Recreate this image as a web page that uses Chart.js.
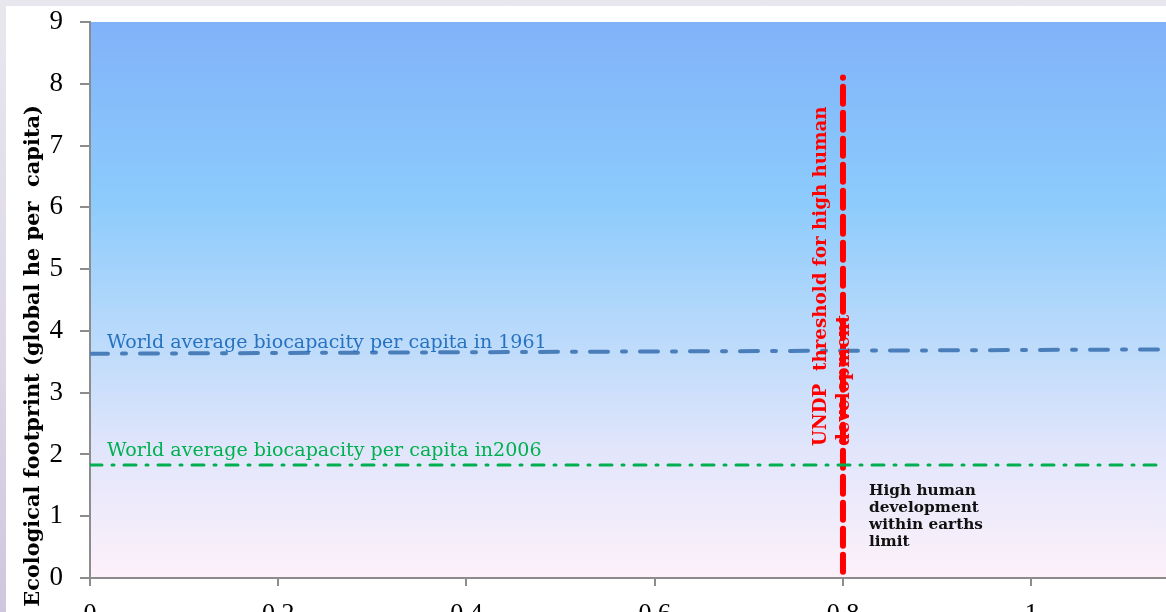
<!DOCTYPE html>
<html lang="en">
<head>
<meta charset="UTF-8">
<title>Ecological footprint</title>
<script src="https://cdn.jsdelivr.net/npm/chart.js"></script>
<style>
  html, body {
    margin: 0;
    padding: 0;
    width: 1166px;
    height: 612px;
    overflow: hidden;
    background: linear-gradient(180deg, #e9e7ee 0%, #dcd6e6 60%, #cfc6df 100%);
  }
  .paper {
    position: absolute;
    left: 6px;
    top: 6px;
    width: 1200px;
    height: 700px;
    background: #ffffff;
  }
  #chart {
    position: absolute;
    left: 0;
    top: 0;
  }
</style>
</head>
<body>
<div class="paper"></div>
<canvas id="chart" width="1166" height="640"></canvas>
<script>
// data
const xTickValues = [0, 0.2, 0.4, 0.6, 0.8, 1];
const yTickValues = [0, 1, 2, 3, 4, 5, 6, 7, 8, 9];

const bio1961X = [0, 1.143];
const bio1961Y = [3.63, 3.70];

const bio2006X = [0, 1.143];
const bio2006Y = [1.83, 1.83];

const undpX = [0.8, 0.8];
const undpY = [0.1, 8.1];

const yTitle = 'Ecological footprint (global he per  capita)';
const label1961 = 'World average biocapacity per capita in 1961';
const label2006 = 'World average biocapacity per capita in2006';
const undpLines = ['UNDP  threshold for high human', 'development'];
const noteLines = ['High human', 'development', 'within earths', 'limit'];

const toPoints = (xs, ys) => xs.map((x, i) => ({ x: x, y: ys[i] }));
const SERIF = '"DejaVu Serif"';

// pick a font size so that a text gets the wanted width
function fitFont(ctx, text, width, weight) {
  ctx.font = weight + ' 20px ' + SERIF;
  const size = 20 * width / ctx.measureText(text).width;
  return weight + ' ' + size.toFixed(2) + 'px ' + SERIF;
}

// plot area background
const areaBackground = {
  id: 'areaBackground',
  beforeDraw(chart) {
    const { ctx, chartArea: a } = chart;
    const g = ctx.createLinearGradient(0, a.top, 0, a.bottom);
    g.addColorStop(0, '#80b2f9');
    g.addColorStop(0.32, '#8ccbfc');
    g.addColorStop(0.55, '#b7d9fb');
    g.addColorStop(0.78, '#e3e6fb');
    g.addColorStop(1, '#fdf1fa');
    ctx.save();
    ctx.fillStyle = g;
    ctx.fillRect(a.left, a.top, a.right - a.left, a.bottom - a.top);
    ctx.restore();
  }
};

// texts written on the chart
const annotations = {
  id: 'annotations',
  afterDraw(chart) {
    const ctx = chart.ctx;
    const xs = chart.scales.x;
    const ys = chart.scales.y;
    ctx.save();
    ctx.textBaseline = 'alphabetic';

    // y axis title
    ctx.save();
    ctx.translate(39, 105);
    ctx.rotate(-Math.PI / 2);
    ctx.font = fitFont(ctx, yTitle, 502, 'bold');
    ctx.fillStyle = '#000';
    ctx.textAlign = 'right';
    ctx.fillText(yTitle, 0, 0);
    ctx.restore();

    // horizontal line labels
    ctx.textAlign = 'left';
    ctx.font = fitFont(ctx, label1961, 440, 'normal');
    ctx.fillStyle = '#2672c0';
    ctx.fillText(label1961, xs.getPixelForValue(0) + 17, ys.getPixelForValue(3.63) - 6);
    ctx.font = fitFont(ctx, label2006, 435, 'normal');
    ctx.fillStyle = '#00b050';
    ctx.fillText(label2006, xs.getPixelForValue(0) + 17, ys.getPixelForValue(1.83) - 9);

    // vertical threshold label
    ctx.save();
    ctx.translate(826, 446);
    ctx.rotate(-Math.PI / 2);
    ctx.font = fitFont(ctx, undpLines[0], 340, 'bold');
    ctx.fillStyle = '#ff0000';
    undpLines.forEach((t, i) => ctx.fillText(t, 0, i * 23));
    ctx.restore();

    // note under the lines
    ctx.font = fitFont(ctx, noteLines[2], 114, 'bold');
    ctx.fillStyle = '#111';
    noteLines.forEach((t, i) => ctx.fillText(t, 869, 495 + i * 17));

    ctx.restore();
  }
};

const config = {
  type: 'scatter',
  data: {
    datasets: [{
      data: toPoints(bio2006X, bio2006Y),
      showLine: true,
      borderColor: '#00b050',
      borderWidth: 3,
      borderDash: [12, 10, 2, 10],
      borderCapStyle: 'round',
      pointRadius: 0
    }, {
      data: toPoints(bio1961X, bio1961Y),
      showLine: true,
      borderColor: '#4a7ebb',
      borderWidth: 4,
      borderDash: [18, 14, 4, 14],
      borderCapStyle: 'round',
      pointRadius: 0
    }, {
      data: toPoints(undpX, undpY),
      showLine: true,
      borderColor: '#ff0000',
      borderWidth: 6,
      borderDash: [17, 9],
      borderCapStyle: 'round',
      pointRadius: 0
    }]
  },
  options: {
    responsive: false,
    devicePixelRatio: 1,
    animation: false,
    layout: { autoPadding: false, padding: { top: 22, right: 0, bottom: 0, left: 0 } },
    plugins: {
      legend: { display: false },
      title: { display: false },
      tooltip: { enabled: false }
    },
    scales: {
      x: {
        type: 'linear',
        min: 0,
        max: 1.1432,
        afterFit(s) { s.height = 62; s.paddingLeft = 0; s.paddingRight = 0; },
        afterBuildTicks(s) { s.ticks = xTickValues.map(v => ({ value: v })); },
        grid: {
          drawOnChartArea: false,
          drawTicks: true,
          tickLength: 8,
          color: '#8c8c8c',
          lineWidth: 2
        },
        border: { color: '#8c8c8c', width: 2 },
        ticks: {
          color: '#000',
          padding: 13,
          maxRotation: 0,
          font: { family: '"Liberation Serif"', size: 26 },
          callback: v => String(v)
        }
      },
      y: {
        min: 0,
        max: 9,
        afterFit(s) { s.width = 90; s.paddingTop = 0; s.paddingBottom = 0; },
        afterBuildTicks(s) { s.ticks = yTickValues.map(v => ({ value: v })); },
        grid: {
          drawOnChartArea: false,
          drawTicks: true,
          tickLength: 10,
          color: '#8c8c8c',
          lineWidth: 2
        },
        border: { color: '#8c8c8c', width: 2 },
        ticks: {
          color: '#000',
          padding: 17,
          font: { family: '"Liberation Serif"', size: 27 }
        }
      }
    }
  },
  plugins: [areaBackground, annotations]
};

const myChart = new Chart(document.getElementById('chart'), config);
</script>
</body>
</html>
